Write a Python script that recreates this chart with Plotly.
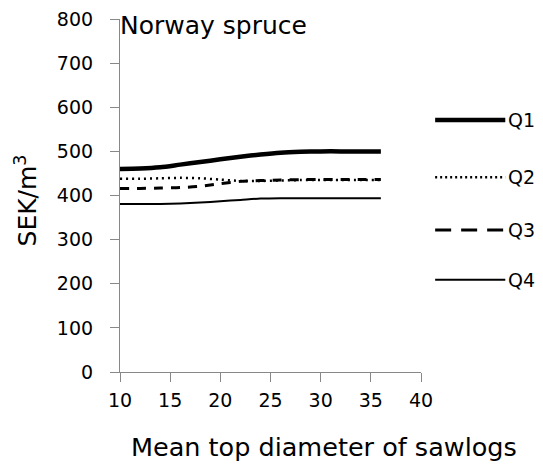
import plotly.graph_objects as go

diam = [10, 12, 14, 16, 18, 20, 22, 24, 26, 28, 30, 32, 34, 36]
q1 = [460, 461, 464, 470, 476, 482, 488, 493, 497, 499, 500, 500, 500, 500]
q2 = [438, 438, 439, 440, 439, 436, 433, 433, 434, 435, 435, 435, 435, 435]
q3 = [416, 416, 417, 418, 421, 427, 432, 434, 435, 436, 436, 436, 436, 436]
q4 = [381, 381, 381, 382, 384, 387, 390, 393, 394, 394, 394, 394, 394, 394]
names = ["Q1", "Q2", "Q3", "Q4"]
series = [q1, q2, q3, q4]
y_ticks = [0, 100, 200, 300, 400, 500, 600, 700, 800]
x_ticks = [10, 15, 20, 25, 30, 35, 40]

styles = [
    dict(width=4.5, dash="solid", leg="solid"),
    dict(width=2.5, dash="2px,4px", leg="2px,3px"),
    dict(width=3, dash="9px,8px", leg="16px,10px"),
    dict(width=2, dash="solid", leg="solid"),
]

FONT = "DejaVu Sans"
fig = go.Figure()
for name, ys, st in zip(names, series, styles):
    fig.add_trace(go.Scatter(x=diam, y=ys, mode="lines", name=name,
                             line=dict(color="black", width=st["width"], dash=st["dash"],
                                       shape="spline", smoothing=0.8),
                             showlegend=False))

# manual legend
leg_y = [0.714, 0.552, 0.402, 0.261]
for name, st, yy in zip(names, styles, leg_y):
    fig.add_shape(type="line", xref="paper", yref="paper", x0=1.047, x1=1.28, y0=yy, y1=yy,
                  line=dict(color="black", width=st["width"], dash=st["leg"]))
    fig.add_annotation(xref="paper", yref="paper", x=1.282, y=yy, text=name, showarrow=False,
                       xanchor="left", yanchor="middle", font=dict(size=19, color="black", family=FONT))

fig.add_annotation(xref="paper", yref="paper", x=0.0, y=1.0, text="Norway spruce", showarrow=False,
                   xanchor="left", yanchor="top", xshift=-2, yshift=10,
                   font=dict(size=25, color="black", family=FONT))
fig.add_annotation(xref="paper", yref="paper", x=0.678, y=-0.212, text="Mean top diameter of sawlogs",
                   showarrow=False, xanchor="center", yanchor="middle",
                   font=dict(size=25.5, color="black", family=FONT))
fig.add_annotation(xref="paper", yref="paper", x=-0.31, y=0.485, text="SEK/m<sup>3</sup>",
                   showarrow=False, textangle=-90, xanchor="center", yanchor="middle",
                   font=dict(size=25, color="black", family=FONT))

fig.update_layout(
    width=543, height=466,
    margin=dict(l=120, r=122, t=19, b=94),
    plot_bgcolor="white", paper_bgcolor="white",
    font=dict(family=FONT, size=19, color="black"),
)
fig.update_xaxes(range=[10, 40], tickvals=x_ticks, showgrid=False, zeroline=False,
                 showline=True, linecolor="#888", linewidth=1.2, automargin=False,
                 ticks="outside", ticklen=9, tickcolor="#888", ticklabelstandoff=2)
fig.update_yaxes(range=[0, 800], tickvals=y_ticks, showgrid=False, zeroline=False,
                 showline=True, linecolor="#888", linewidth=1.2, automargin=False,
                 ticks="outside", ticklen=9, tickcolor="#888", ticklabelstandoff=13)

fig.write_html("out.html", config={"displayModeBar": False},
               post_script="document.body.style.margin='0';")
